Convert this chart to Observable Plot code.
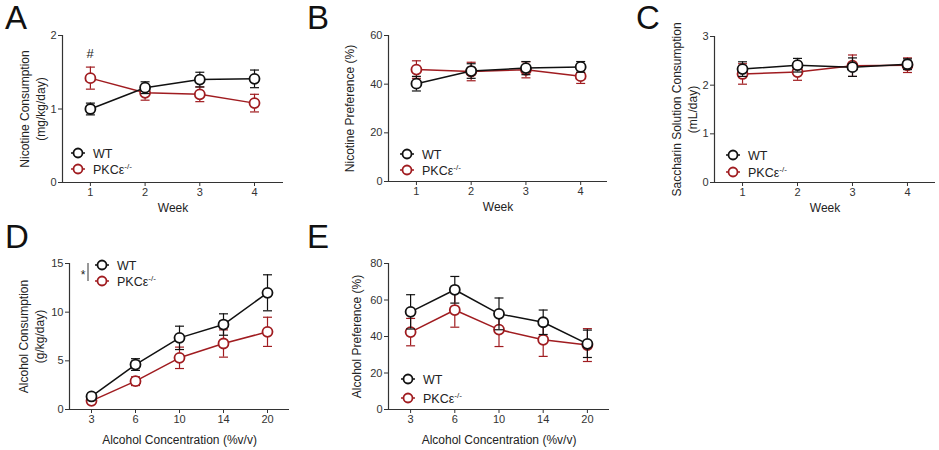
<!DOCTYPE html>
<html><head>
<meta charset="utf-8">
<script src="https://cdn.jsdelivr.net/npm/d3@7"></script>
<script src="https://cdn.jsdelivr.net/npm/@observablehq/plot@0.6"></script>
<style>
body{margin:0;background:#fff;}
#root{position:relative;width:939px;height:450px;font-family:"Liberation Sans",Arial,Helvetica,sans-serif;overflow:hidden;}
#root svg{position:absolute;}
</style>
</head><body><div id="root"></div>
<script>
// ---------- data ----------
const weeks = [1, 2, 3, 4];
const concLabels = ["3", "6", "10", "14", "20"];
const groups = ["WT", "PKC"];

const nicConsWT = [1.00, 1.29, 1.40, 1.41];
const nicConsWTErr = [0.08, 0.08, 0.10, 0.12];
const nicConsKO = [1.42, 1.22, 1.20, 1.08];
const nicConsKOErr = [0.15, 0.10, 0.10, 0.12];

const nicPrefWT = [40.2, 45.4, 46.6, 47.1];
const nicPrefWTErr = [3.0, 3.0, 2.7, 2.2];
const nicPrefKO = [46.0, 45.2, 45.9, 43.3];
const nicPrefKOErr = [3.6, 3.8, 3.3, 3.0];

const sacWT = [2.33, 2.41, 2.37, 2.43];
const sacWTErr = [0.15, 0.14, 0.19, 0.11];
const sacKO = [2.23, 2.27, 2.40, 2.41];
const sacKOErr = [0.21, 0.17, 0.22, 0.15];

const alcConsWT = [1.34, 4.62, 7.36, 8.73, 11.99];
const alcConsWTErr = [0.25, 0.6, 1.2, 1.1, 1.85];
const alcConsKO = [0.89, 2.91, 5.31, 6.78, 7.98];
const alcConsKOErr = [0.2, 0.45, 1.1, 1.4, 1.5];

const alcPrefWT = [53.5, 65.6, 52.4, 47.8, 36.0];
const alcPrefWTErr = [9.4, 7.3, 8.7, 6.7, 7.5];
const alcPrefKO = [42.4, 54.5, 43.8, 38.2, 35.3];
const alcPrefKOErr = [7.5, 9.4, 9.3, 9.1, 9.0];

// ---------- styling ----------
const FONT = '"Liberation Sans",Arial,Helvetica,sans-serif';
const colors = {WT: "#111111", PKC: "#a01c20"};
const axisColor = "#333";

const capSymbol = {
  draw(ctx, size) {
    const r = Math.sqrt(size / Math.PI);
    ctx.moveTo(-r, 0);
    ctx.lineTo(r, 0);
  }
};

function makePanel(cfg) {
  const seriesDefs = [
    {g: "PKC", v: cfg.ko, e: cfg.koErr},
    {g: "WT", v: cfg.wt, e: cfg.wtErr}
  ];
  const marks = [];
  for (const s of seriesDefs) {
    const d = s.v.map((v, i) => ({x: cfg.xs[i], y: v, lo: v - s.e[i], hi: v + s.e[i], g: s.g}));
    const c = colors[s.g];
    marks.push(
      Plot.ruleX(d, {x: "x", y1: "lo", y2: "hi", stroke: c, strokeWidth: 1.2}),
      Plot.dot(d, {x: "x", y: "hi", symbol: capSymbol, r: 4.5, stroke: c, fill: "none", strokeWidth: 1.2}),
      Plot.dot(d, {x: "x", y: "lo", symbol: capSymbol, r: 4.5, stroke: c, fill: "none", strokeWidth: 1.2}),
      Plot.line(d, {x: "x", y: "y", stroke: c, strokeWidth: 1.5}),
      Plot.dot(d, {x: "x", y: "y", r: 5, fill: "white", stroke: c, strokeWidth: 1.8})
    );
  }
  const svg = Plot.plot({
    width: cfg.width, height: cfg.height,
    marginLeft: cfg.ml, marginRight: cfg.mr, marginTop: cfg.mt, marginBottom: cfg.mb,
    style: {fontFamily: FONT, fontSize: "11px", color: axisColor, background: "transparent", overflow: "visible"},
    x: {domain: cfg.xDomain, ticks: cfg.xs, tickFormat: cfg.xFmt, tickSize: 4, tickPadding: 2, label: null},
    y: {domain: cfg.yDomain, ticks: cfg.yTicks, tickFormat: d => String(d), tickSize: 4, tickPadding: 2, label: null},
    marks: [
      Plot.ruleY([cfg.yDomain[0]], {stroke: axisColor, strokeWidth: 1.2}),
      Plot.ruleX([cfg.xDomain[0]], {stroke: axisColor, strokeWidth: 1.2}),
      ...marks,
      Plot.text([cfg.yLabel], {text: d => d, frameAnchor: "left", textAnchor: "middle", lineAnchor: "middle", dx: cfg.yLabelDx, rotate: -90, fontSize: 12, lineHeight: 1.35, fill: "#222"}),
      Plot.text([cfg.xLabel], {text: d => d, frameAnchor: "bottom", textAnchor: "middle", lineAnchor: "middle", dy: cfg.xLabelDy, fontSize: 12, fill: "#222"})
    ]
  });
  svg.style.left = cfg.left + "px";
  svg.style.top = cfg.top + "px";
  document.getElementById("root").appendChild(svg);
}

const idx = concLabels.map((_, i) => i);

makePanel({left: 0, top: 0, width: 300, height: 225, ml: 62, mr: 17, mt: 35, mb: 43,
  xs: weeks, xDomain: [0.49, 4.53], xFmt: d => d, yDomain: [0, 2], yTicks: [0, 1, 2],
  wt: nicConsWT, wtErr: nicConsWTErr, ko: nicConsKO, koErr: nicConsKOErr,
  yLabel: "Nicotine Consumption\n(mg/kg/day)", yLabelDx: -31, xLabel: "Week", xLabelDy: 26});

makePanel({left: 310, top: 0, width: 312, height: 225, ml: 78, mr: 15, mt: 35, mb: 44,
  xs: weeks, xDomain: [0.49, 4.49], xFmt: d => d, yDomain: [0, 60], yTicks: [0, 20, 40, 60],
  wt: nicPrefWT, wtErr: nicPrefWTErr, ko: nicPrefKO, koErr: nicPrefKOErr,
  yLabel: "Nicotine Preference (%)", yLabelDx: -40, xLabel: "Week", xLabelDy: 26});

makePanel({left: 620, top: 0, width: 319, height: 225, ml: 94, mr: 4, mt: 36, mb: 43,
  xs: weeks, xDomain: [0.49, 4.51], xFmt: d => d, yDomain: [0, 3], yTicks: [0, 1, 2, 3],
  wt: sacWT, wtErr: sacWTErr, ko: sacKO, koErr: sacKOErr,
  yLabel: "Saccharin Solution Consumption\n(mL/day)", yLabelDx: -31, xLabel: "Week", xLabelDy: 26});

makePanel({left: 0, top: 220, width: 300, height: 230, ml: 69, mr: 11, mt: 43, mb: 41,
  xs: idx, xDomain: [-0.5, 4.5], xFmt: i => concLabels[i], yDomain: [0, 15], yTicks: [0, 5, 10, 15],
  wt: alcConsWT, wtErr: alcConsWTErr, ko: alcConsKO, koErr: alcConsKOErr,
  yLabel: "Alcohol Consumption\n(g/kg/day)", yLabelDx: -39, xLabel: "Alcohol Concentration (%v/v)", xLabelDy: 31});

makePanel({left: 310, top: 220, width: 312, height: 230, ml: 78, mr: 13, mt: 43, mb: 41,
  xs: idx, xDomain: [-0.5, 4.5], xFmt: i => concLabels[i], yDomain: [0, 80], yTicks: [0, 20, 40, 60, 80],
  wt: alcPrefWT, wtErr: alcPrefWTErr, ko: alcPrefKO, koErr: alcPrefKOErr,
  yLabel: "Alcohol Preference (%)", yLabelDx: -33, xLabel: "Alcohol Concentration (%v/v)", xLabelDy: 31});

// ---------- overlay: panel letters, legends, annotations ----------
const ov = d3.select("#root").append("svg")
  .attr("width", 939).attr("height", 450)
  .style("left", "0px").style("top", "0px")
  .style("pointer-events", "none")
  .style("font-family", FONT);

const letters = [["A", 5, 29], ["B", 307, 29], ["C", 636, 29], ["D", 5, 248], ["E", 307, 248]];
ov.selectAll("text.letter").data(letters).join("text")
  .attr("class", "letter").attr("x", d => d[1]).attr("y", d => d[2])
  .attr("font-size", 33).attr("fill", "#111").text(d => d[0]);

const legends = [[78, 153, 169], [407, 154, 170], [733, 155, 172], [102, 265, 281], [408, 379, 398]];
for (const [cx, y1, y2] of legends) {
  [["WT", y1], ["PKC", y2]].forEach(([g, y]) => {
    const c = colors[g];
    ov.append("line").attr("x1", cx - 7).attr("x2", cx + 7).attr("y1", y).attr("y2", y)
      .attr("stroke", c).attr("stroke-width", 1.5);
    ov.append("circle").attr("cx", cx).attr("cy", y).attr("r", 4.5)
      .attr("fill", "white").attr("stroke", c).attr("stroke-width", 1.8);
    const t = ov.append("text").attr("x", cx + 15).attr("y", y + 4.5)
      .attr("font-size", 12.5).attr("fill", "#222");
    if (g === "WT") t.text("WT");
    else {
      t.append("tspan").text("PKCε");
      t.append("tspan").attr("font-size", 8).attr("dy", -5).text("-/-");
    }
  });
}

ov.append("text").attr("x", 90).attr("y", 58).attr("text-anchor", "middle")
  .attr("font-size", 13).attr("fill", "#222").text("#");
ov.append("text").attr("x", 83).attr("y", 279).attr("text-anchor", "middle")
  .attr("font-size", 12).attr("fill", "#222").text("*");
ov.append("line").attr("x1", 88).attr("x2", 88).attr("y1", 263).attr("y2", 281)
  .attr("stroke", "#333").attr("stroke-width", 1);
</script>
</body></html>
